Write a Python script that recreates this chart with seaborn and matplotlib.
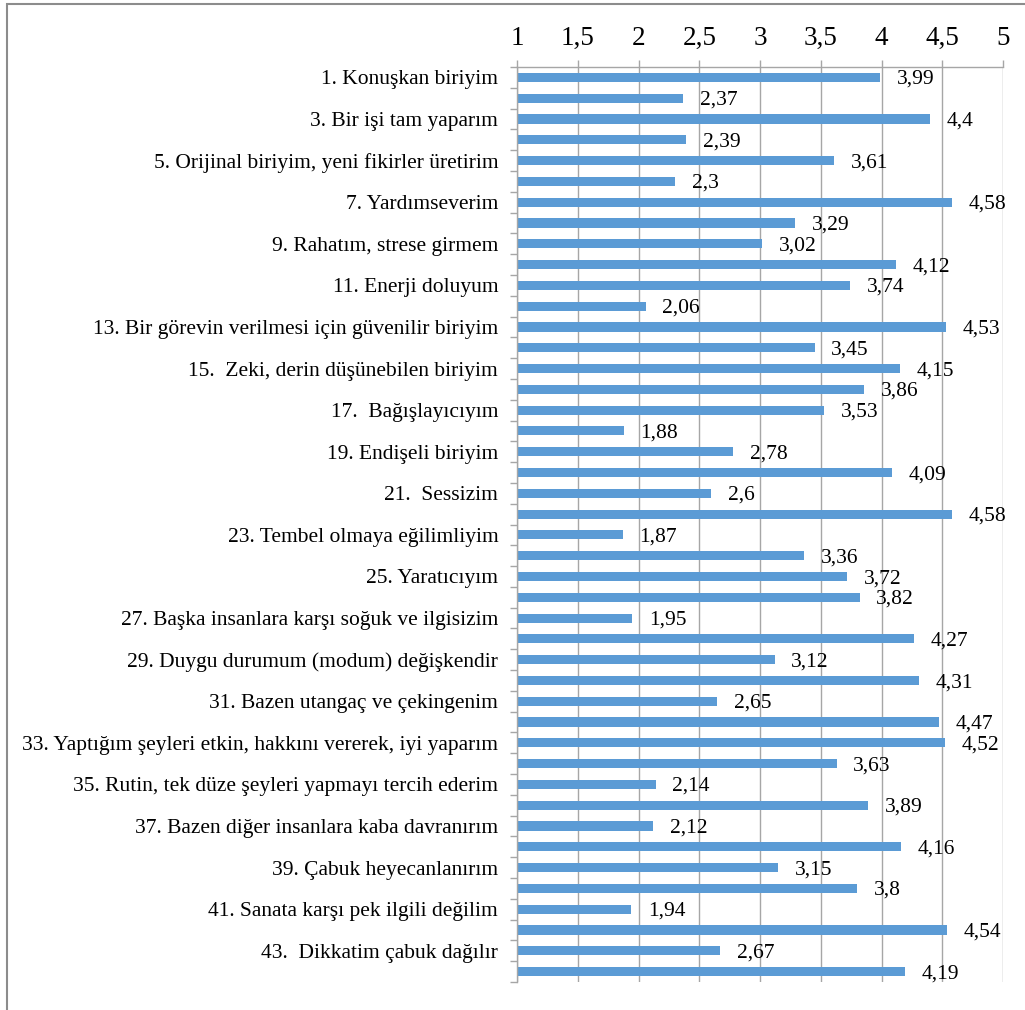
import matplotlib
matplotlib.use("Agg")
import matplotlib.pyplot as plt
import seaborn as sns
import pandas as pd
import numpy as np
from matplotlib.patches import Rectangle
from matplotlib.ticker import FuncFormatter

items = list(range(1, 45))
odd_labels = [
    "1. Konuşkan biriyim",
    "3. Bir işi tam yaparım",
    "5. Orijinal biriyim, yeni fikirler üretirim",
    "7. Yardımseverim",
    "9. Rahatım, strese girmem",
    "11. Enerji doluyum",
    "13. Bir görevin verilmesi için güvenilir biriyim",
    "15.  Zeki, derin düşünebilen biriyim",
    "17.  Bağışlayıcıyım",
    "19. Endişeli biriyim",
    "21.  Sessizim",
    "23. Tembel olmaya eğilimliyim",
    "25. Yaratıcıyım",
    "27. Başka insanlara karşı soğuk ve ilgisizim",
    "29. Duygu durumum (modum) değişkendir",
    "31. Bazen utangaç ve çekingenim",
    "33. Yaptığım şeyleri etkin, hakkını vererek, iyi yaparım",
    "35. Rutin, tek düze şeyleri yapmayı tercih ederim",
    "37. Bazen diğer insanlara kaba davranırım",
    "39. Çabuk heyecanlanırım",
    "41. Sanata karşı pek ilgili değilim",
    "43.  Dikkatim çabuk dağılır",
]
values = [3.99, 2.37, 4.4, 2.39, 3.61, 2.3, 4.58, 3.29, 3.02, 4.12,
          3.74, 2.06, 4.53, 3.45, 4.15, 3.86, 3.53, 1.88, 2.78, 4.09,
          2.6, 4.58, 1.87, 3.36, 3.72, 3.82, 1.95, 4.27, 3.12, 4.31,
          2.65, 4.47, 4.52, 3.63, 2.14, 3.89, 2.12, 4.16, 3.15, 3.8,
          1.94, 4.54, 2.67, 4.19]
x_ticks = [1, 1.5, 2, 2.5, 3, 3.5, 4, 4.5, 5]

sns.set_theme(style="white")
plt.rcParams['font.family'] = ['Liberation Serif', 'DejaVu Serif']

ylabels = []
for i in items:
    ylabels.append(odd_labels[(i - 1) // 2] if i % 2 == 1 else "")

df = pd.DataFrame({"item": [str(i) for i in items], "value": values})

fig = plt.figure(figsize=(10.25, 10.10), dpi=100)
ax = fig.add_axes([517/1025, 1-982/1010, (1003-517)/1025, (982-67)/1010])

sns.barplot(data=df, x="value", y="item", orient="h", color="#5B9BD5",
            width=0.44, ax=ax, saturation=1, linewidth=0)

ax.set_xlim(1, 5)
ax.set_ylim(len(items) - 0.5, -0.5)
ax.set_xlabel("")
ax.set_ylabel("")

grid_c = "#A6A6A6"
ax.xaxis.tick_top()
ax.set_xticks(x_ticks)
ax.xaxis.set_major_formatter(FuncFormatter(lambda v, p: (f"{v:g}").replace(".", ",")))
ax.tick_params(axis="x", which="major", top=True, bottom=False, length=5,
               color=grid_c, width=1, pad=6.5, labelsize=19.5, labelcolor="black")
ax.grid(axis="x", color=grid_c, linewidth=1)
ax.grid(axis="y", visible=False)

ax.set_yticks(range(len(items)))
ax.set_yticklabels(ylabels)
ax.set_yticks(np.arange(-0.5, len(items)), minor=True)
ax.tick_params(axis="y", which="major", length=0, pad=13.5, labelsize=15.5,
               labelcolor="black", left=True)
ax.tick_params(axis="y", which="minor", length=5, color=grid_c, width=1, left=True)

for s in ["right", "bottom"]:
    ax.spines[s].set_visible(False)
for s in ["left", "top"]:
    ax.spines[s].set_visible(True)
    ax.spines[s].set_color(grid_c)
    ax.spines[s].set_linewidth(1)

lbls = [str(v).replace(".", ",") for v in values]
texts = ax.bar_label(ax.containers[0], labels=lbls, padding=12, fontsize=15.5, color="black")
for t in texts:
    xa, ya = t.xyann
    t.xyann = (xa, ya - 1.5)

fig.patches.append(Rectangle((7/1025, -0.1), 1.2, 1 - 4/1010 + 0.1,
                             transform=fig.transFigure, fill=False,
                             edgecolor="#8C8C8C", linewidth=1.5, zorder=10))

fig.savefig("out.png", dpi=100)
